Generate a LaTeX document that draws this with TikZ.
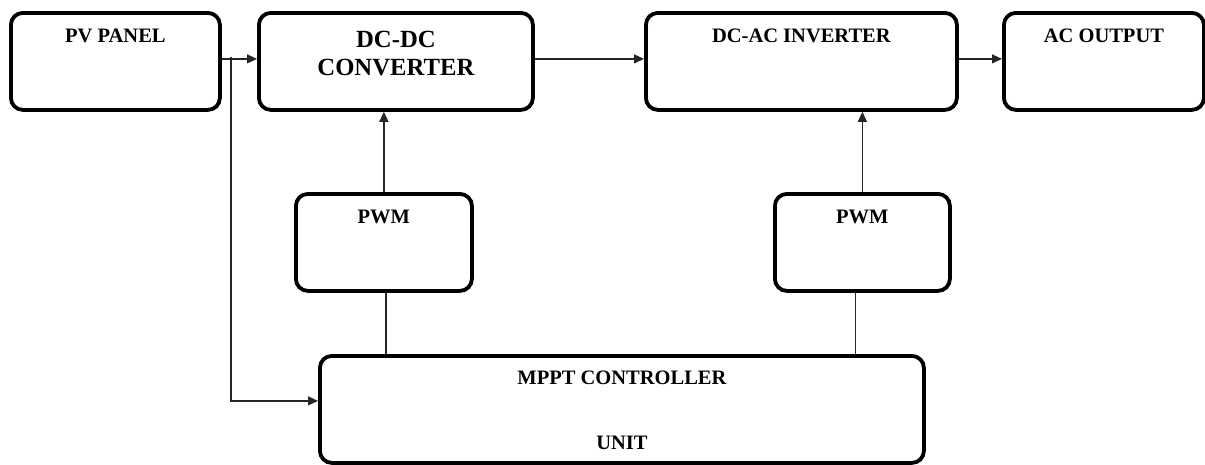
\documentclass[tikz,border=0pt]{standalone}
\usepackage{fontspec}
\setmainfont{Liberation Serif}
\usetikzlibrary{arrows.meta, calc}
\tikzset{
	blk/.style={draw, rounded corners=12pt, line width=3.8pt, anchor=north west, inner sep=0pt},
	lbl/.style={anchor=base, inner sep=0pt, font=\fontsize{20.5pt}{24pt}\selectfont\bfseries},
	biglbl/.style={lbl, align=center, font=\fontsize{24.7pt}{28pt}\selectfont\bfseries},
	conn/.style={line width=1.2pt, draw=black!85},
	arr/.style={conn, -{Triangle[length=10pt,width=9pt]}}
}

\begin{document}
\begin{tikzpicture}[x=1pt, y=-1pt]
	\useasboundingbox (0,0) rectangle (1205,464);
	\pgfmathsetmacro{\rowh}{97}
	\node[blk, minimum width=209pt, minimum height=\rowh pt] (pv) at (9,11) {};
	\node[blk, minimum width=274pt, minimum height=\rowh pt] (dcdc) at (257,11) {};
	\node[blk, minimum width=311pt, minimum height=\rowh pt] (dcac) at (644,11) {};
	\node[blk, minimum width=200pt, minimum height=\rowh pt] (acout) at (1002,11) {};
	\node[blk, minimum width=176pt, minimum height=\rowh pt] (pwma) at (294,192) {};
	\node[blk, minimum width=175pt, minimum height=\rowh pt] (pwmb) at (773,192) {};
	\node[blk, minimum width=604pt, minimum height=107pt] (mppt) at (318,354) {};
	\node[lbl] (pvtext) at ([yshift=-31pt]pv.north) {PV PANEL};
	\node[biglbl] (dcdctext) at ([yshift=-64pt]dcdc.north) {DC-DC\\CONVERTER};
	\node[lbl] (dcactext) at ([yshift=-31pt]dcac.north) {DC-AC INVERTER};
	\node[lbl] (acouttext) at ([yshift=-31pt]acout.north) {AC OUTPUT};
	\node[lbl] (pwmatext) at ([yshift=-31pt]pwma.north) {PWM};
	\node[lbl] (pwmbtext) at ([yshift=-31pt]pwmb.north) {PWM};
	\node[lbl] (mppttext) at ([yshift=-30pt]mppt.north) {MPPT CONTROLLER};
	\node[lbl] (unittext) at ([yshift=-95pt]mppt.north) {UNIT};
	\coordinate (split) at (231,57);
	\draw[arr] ([yshift=2.5pt]pv.east) -- ([yshift=2.5pt]dcdc.west);
	\draw[arr] ([yshift=2.5pt]dcdc.east) -- ([yshift=2.5pt]dcac.west);
	\draw[arr] ([yshift=2.5pt]dcac.east) -- ([yshift=2.5pt]acout.west);
	\draw[arr] (split) |- ([yshift=8.5pt]mppt.west);
	\draw[arr] (pwma.north) -- (pwma.north |- dcdc.south);
	\draw[arr] (pwmb.north) -- (pwmb.north |- dcac.south);
	\draw[conn] ([xshift=2pt]pwma.south) -- ([xshift=2pt]pwma.south |- mppt.north);
	\draw[conn] ([xshift=-7pt]pwmb.south) -- ([xshift=-7pt]pwmb.south |- mppt.north);
\end{tikzpicture}
\end{document}
